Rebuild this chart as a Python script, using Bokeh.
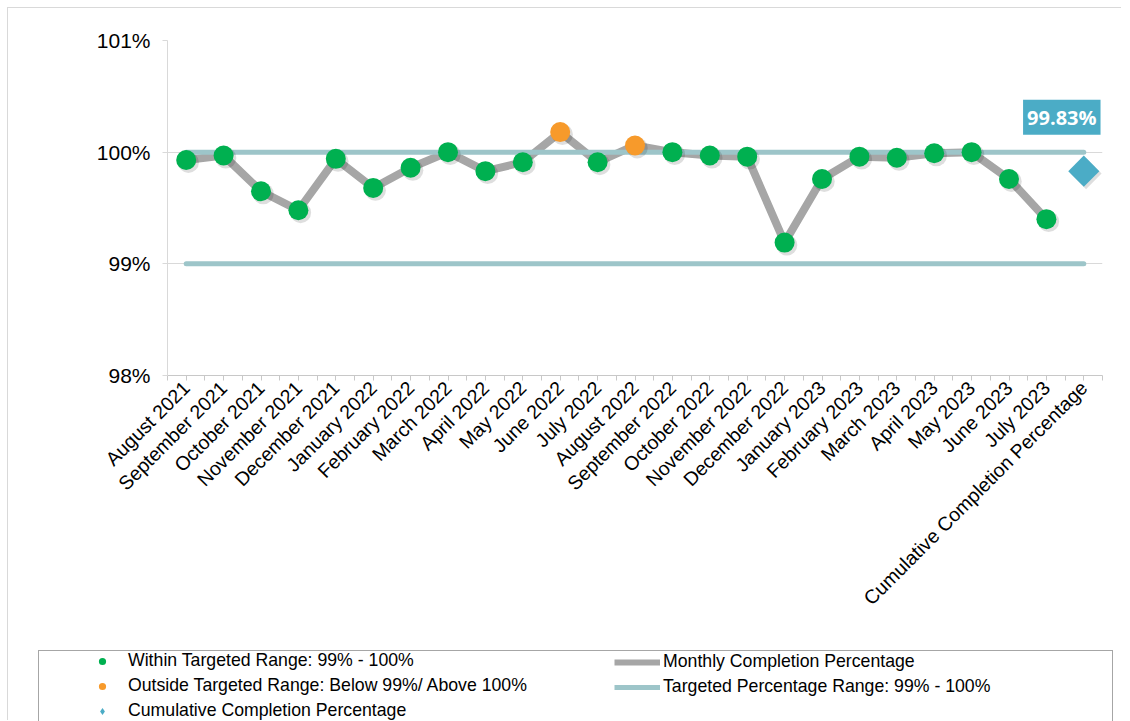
import math
from bokeh.plotting import figure
from bokeh.layouts import column
from bokeh.models import (Range1d, FixedTicker, PrintfTickFormatter, ColumnDataSource,
                          Legend, LegendItem, Label)
from bokeh.transform import dodge
from bokeh.embed import file_html
from bokeh.resources import INLINE

# ---------------- data ----------------
months = ["August 2021", "September 2021", "October 2021", "November 2021", "December 2021",
          "January 2022", "February 2022", "March 2022", "April 2022", "May 2022", "June 2022",
          "July 2022", "August 2022", "September 2022", "October 2022", "November 2022",
          "December 2022", "January 2023", "February 2023", "March 2023", "April 2023",
          "May 2023", "June 2023", "July 2023"]
monthly_pct = [99.93, 99.97, 99.65, 99.48, 99.94, 99.68, 99.86, 100.00, 99.83, 99.91, 100.18,
               99.91, 100.06, 100.00, 99.97, 99.96, 99.19, 99.76, 99.96, 99.95, 99.99,
               100.00, 99.76, 99.40]
cumulative_label = "Cumulative Completion Percentage"
cumulative_pct = 99.83
target_low = 99
target_high = 100
y_ticks = [98, 99, 100, 101]
legend_labels_a = ["Within Targeted Range: 99% - 100%",
                   "Outside Targeted Range: Below 99%/ Above 100%",
                   "Cumulative Completion Percentage"]
legend_labels_b = ["Monthly Completion Percentage",
                   "Targeted Percentage Range: 99% - 100%"]

categories = months + [cumulative_label]
x_month = list(range(len(months)))
x_all = list(range(len(categories)))
x_cum = len(months)

within_x = [x for x, v in zip(x_month, monthly_pct) if target_low <= v <= target_high]
within_y = [v for v in monthly_pct if target_low <= v <= target_high]
outside_x = [x for x, v in zip(x_month, monthly_pct) if not (target_low <= v <= target_high)]
outside_y = [v for v in monthly_pct if not (target_low <= v <= target_high)]

# ---------------- style ----------------
GREEN = "#00B050"
ORANGE = "#F79A2B"
TEAL = "#4BACC6"
GRAYLINE = "#A6A6A6"
TARGET = "#9DC5C9"
FONT = "Liberation Sans"

p = figure(width=1114, height=642, title=None,
           x_range=Range1d(-0.5, len(categories) - 0.5), y_range=Range1d(98, 101),
           output_backend="svg", toolbar_location=None,
           min_border_left=159, min_border_top=32, min_border_right=20, min_border_bottom=275)
p.frame_align = False
p.outline_line_color = None
p.xgrid.visible = False
p.ygrid.grid_line_color = "#D9D9D9"
p.ygrid.ticker = FixedTicker(ticks=y_ticks)

# axes
xa = p.xaxis[0]
xa.ticker = FixedTicker(ticks=x_all, minor_ticks=[i - 0.5 for i in range(len(categories) + 1)])
xa.major_label_overrides = {i: c for i, c in enumerate(categories)}
xa.major_label_orientation = math.pi / 4
xa.major_label_text_font = FONT
xa.major_label_text_font_size = "19.5px"
xa.major_label_text_color = "#000000"
xa.major_label_standoff = 4
xa.axis_line_color = "#C8C8C8"
xa.major_tick_line_color = "#C8C8C8"
xa.minor_tick_line_color = "#C8C8C8"
xa.major_tick_in = 0
xa.major_tick_out = 5
xa.minor_tick_in = 0
xa.minor_tick_out = 5

ya = p.yaxis[0]
ya.ticker = FixedTicker(ticks=y_ticks)
ya.formatter = PrintfTickFormatter(format="%d%%")
ya.major_label_text_font = FONT
ya.major_label_text_font_size = "21px"
ya.major_label_text_color = "#000000"
ya.major_label_standoff = 12
ya.axis_line_color = "#D9D9D9"
ya.major_tick_line_color = "#D9D9D9"
ya.minor_tick_line_color = None
ya.major_tick_in = 0
ya.major_tick_out = 5

# ---------------- glyphs ----------------
line_src = ColumnDataSource(dict(x=x_month, y=monthly_pct))
p.line("x", "y", source=line_src, line_color=GRAYLINE, line_width=8,
       line_join="round", line_cap="round")

p.multi_line(xs=[x_all, x_all], ys=[[target_high] * len(x_all), [target_low] * len(x_all)],
             line_color=TARGET, line_width=5, line_cap="round")

green_src = ColumnDataSource(dict(x=within_x, y=within_y))
orange_src = ColumnDataSource(dict(x=outside_x, y=outside_y))
cum_src = ColumnDataSource(dict(x=[x_cum], y=[cumulative_pct]))

# soft shadows
for src in (green_src, orange_src):
    p.scatter(x=dodge("x", 0.06), y=dodge("y", -0.022), source=src, size=21,
              fill_color="#000000", fill_alpha=0.13, line_color=None)
p.scatter(x=dodge("x", 0.06), y=dodge("y", -0.022), source=cum_src, marker="square",
          angle=math.pi / 4, size=22, fill_color="#000000", fill_alpha=0.13, line_color=None)

p.scatter("x", "y", source=green_src, size=20, fill_color=GREEN, line_color=None)
p.scatter("x", "y", source=orange_src, size=20, fill_color=ORANGE, line_color=None)
p.scatter("x", "y", source=cum_src, marker="square", angle=math.pi / 4, size=22,
          fill_color=TEAL, line_color=None)

lbl = Label(x=x_cum, y=cumulative_pct, text=f"{cumulative_pct:.2f}%", x_offset=-22, y_offset=54,
            text_align="center", text_baseline="middle", text_font="Open Sans",
            text_font_style="bold", text_font_size="20px", text_color="white",
            background_fill_color=TEAL, padding=4)
p.add_layout(lbl)

# ---------------- legend (separate strip below the chart) ----------------
# The strip's view window (0..1) does not contain the data, so its renderers only
# provide the legend swatches.
lg = figure(width=1075, height=71, title=None, margin=(0, 0, 0, 30),
            x_range=Range1d(0, 1), y_range=Range1d(0, 1),
            x_axis_type=None, y_axis_type=None,
            output_backend="svg", toolbar_location=None,
            min_border_left=0, min_border_right=0, min_border_top=0, min_border_bottom=0)
lg.frame_align = False
lg.grid.visible = False
lg.outline_line_color = None
lg.border_fill_alpha = 0
lg.background_fill_alpha = 0
lg.styles = {"box-shadow": "inset 1px 1px 0 0 #A6A6A6, inset -1px 0 0 0 #A6A6A6"}

s_green = lg.scatter("x", "y", source=ColumnDataSource(dict(x=within_x, y=within_y)), size=20,
                     fill_color=GREEN, line_color=None)
s_orange = lg.scatter("x", "y", source=ColumnDataSource(dict(x=outside_x, y=outside_y)), size=20,
                      fill_color=ORANGE, line_color=None)
s_cum = lg.scatter("x", "y", source=ColumnDataSource(dict(x=[x_cum], y=[cumulative_pct])),
                   marker="diamond", size=22, fill_color=TEAL, line_color=None)
s_line = lg.line("x", "y", source=ColumnDataSource(dict(x=x_month, y=monthly_pct)),
                 line_color=GRAYLINE, line_width=6)
s_target = lg.line(x_all, [target_high] * len(x_all), line_color=TARGET, line_width=5)

common = dict(border_line_color=None, background_fill_alpha=0, padding=0, margin=0,
              spacing=4, glyph_height=18, glyph_width=46, label_height=18, label_standoff=3,
              label_text_font=FONT, label_text_font_size="17.7px", label_text_color="#000000")
legA = Legend(items=[LegendItem(label=legend_labels_a[0], renderers=[s_green]),
                     LegendItem(label=legend_labels_a[1], renderers=[s_orange]),
                     LegendItem(label=legend_labels_a[2], renderers=[s_cum])],
              location=(41, 0), **common)
legB = Legend(items=[LegendItem(label=legend_labels_b[0], renderers=[s_line]),
                     LegendItem(label=legend_labels_b[1], renderers=[s_target])],
              location=(576, 24), **common)
lg.add_layout(legA, "center")
lg.add_layout(legB, "center")

layout = column(p, lg, spacing=0, margin=(8, 0, 0, 8))
layout.styles = {"box-shadow": "-1px -1px 0 0 #D9D9D9"}
open("out.html", "w").write(file_html(layout, INLINE))
